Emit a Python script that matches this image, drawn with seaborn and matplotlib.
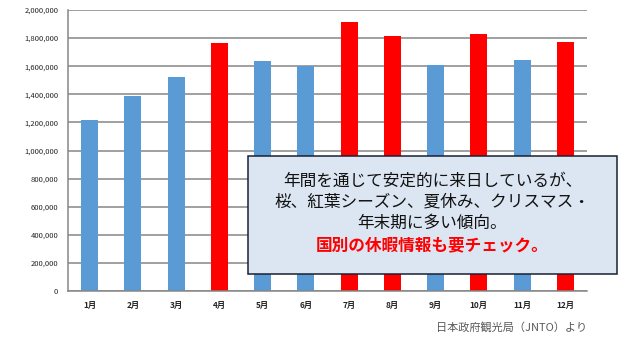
import matplotlib
matplotlib.use("Agg")
import matplotlib.pyplot as plt
import seaborn as sns
import pandas as pd
from matplotlib.ticker import FuncFormatter, MultipleLocator
from matplotlib.patches import FancyBboxPatch

months = ["1月", "2月", "3月", "4月", "5月", "6月", "7月", "8月", "9月", "10月", "11月", "12月"]
visitors = [1217000, 1388000, 1523000, 1765000, 1637000, 1601000,
            1915000, 1815000, 1609000, 1829000, 1644000, 1772000]
highlight = [False, False, False, True, False, False, True, True, False, True, False, True]
note_lines = ["年間を通じて安定的に来日しているが、",
              "桜、紅葉シーズン、夏休み、クリスマス・",
              "年末期に多い傾向。"]
note_red = "国別の休暇情報も要チェック。"
source = "日本政府観光局（JNTO）より"

BLUE = "#5B9BD5"
RED = "#FF0000"

sns.set_style("white")
plt.rcParams['font.family'] = ['Noto Sans CJK JP', 'DejaVu Sans']

df = pd.DataFrame({"month": months, "visitors": visitors})
palette = {m: (RED if h else BLUE) for m, h in zip(months, highlight)}

fig = plt.figure(figsize=(6.26, 3.39), dpi=100)
ax = fig.add_axes([68/626, 1 - 291/339, (587-68)/626, (291-10)/339])
sns.barplot(data=df, x="month", y="visitors", hue="month", palette=palette,
            width=0.39, legend=False, ax=ax, saturation=1, linewidth=0)

ax.set_ylim(0, 2000000)
ax.set_xlim(-0.5, 11.5)
ax.yaxis.set_major_locator(MultipleLocator(200000))
ax.yaxis.set_major_formatter(FuncFormatter(lambda v, p: f"{int(v):,}"))
ax.grid(axis="y", color="#868686", linewidth=1.1)
ax.set_axisbelow(True)
for s in ["top", "right"]:
    ax.spines[s].set_visible(False)
for s in ["left", "bottom"]:
    ax.spines[s].set_color("#868686")
    ax.spines[s].set_linewidth(1.1)
ax.set_xlabel("")
ax.set_ylabel("")
ax.tick_params(axis="y", length=4, color="#868686", labelsize=5.5, pad=3)
ax.tick_params(axis="x", length=0, labelsize=6, pad=7)
for lbl in ax.get_xticklabels():
    lbl.set_fontweight("bold")
# category boundary ticks
ax.set_xticks([i + 0.5 for i in range(-1, 12)], minor=True)
ax.tick_params(axis="x", which="minor", length=4, color="#868686", width=1.1)

# note box
box = FancyBboxPatch((248/626, 1 - 274/339), (617-248)/626, (274-156)/339,
                     boxstyle="square,pad=0", transform=fig.transFigure,
                     facecolor="#DCE6F2", edgecolor="#1A2030", linewidth=1.1, zorder=5)
fig.patches.append(box)
cx = (248 + 617) / 2 / 626
ys = [181, 202, 223]
for t, y in zip(note_lines, ys):
    fig.text(cx, 1 - y/339, t, ha="center", va="center", fontsize=12, color="#111111", zorder=6)
fig.text(cx, 1 - 245/339, note_red, ha="center", va="center", fontsize=12,
         color=RED, fontweight="bold", zorder=6)

fig.text(587/626, 1 - 327/339, source, ha="right", va="center", fontsize=8, color="#595959")

fig.savefig("out.png", dpi=100)
